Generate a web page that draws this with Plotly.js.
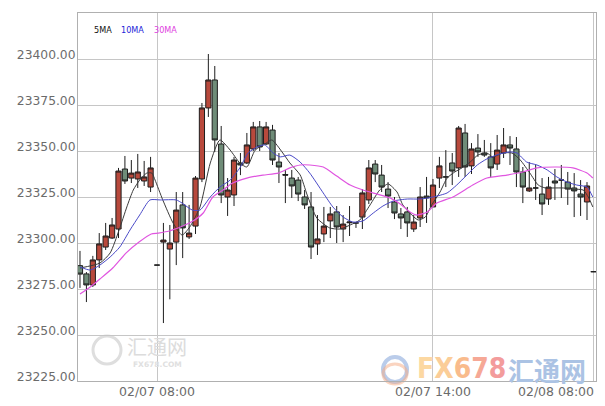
<!DOCTYPE html>
<html><head><meta charset="utf-8">
<script src="https://cdn.plot.ly/plotly-3.0.1.min.js"></script>
<style>html,body{margin:0;padding:0;background:#fff}#chart{width:605px;height:406px}</style>
</head><body><div id="chart"></div>
<script>
// ---- data ----
const openP = [23287.7,23283.2,23277.2,23290.8,23297.8,23302.7,23307.6,23340.2,23335.3,23334.8,
23333.7,23330.4,23288.0,23300.5,23296.7,23300.5,23320.7,23303.3,23309.2,23334.8,
23373.4,23388.6,23353.8,23325.0,23326.1,23343.5,23343.5,23351.1,23363.1,23353.8,
23361.4,23344.0,23337.2,23335.3,23334.2,23325.0,23319.6,23299.5,23304.9,23312.0,
23316.9,23307.6,23311.0,23310.9,23314.1,23323.4,23342.9,23336.9,23329.3,23322.3,
23315.8,23316.9,23307.6,23313.6,23325.5,23319.6,23335.3,23335.9,23343.5,23340.8,
23359.8,23341.9,23351.6,23348.9,23346.8,23342.9,23348.9,23353.3,23351.1,23338.6,
23328.3,23329.9,23326.6,23323.9,23333.7,23334.2,23333.1,23329.9,23326.6,23322.3,
23284.4];
const highP = [23295.7,23284.2,23293.0,23305.4,23310.9,23313.6,23340.8,23347.3,23345.1,23348.4,
23344.6,23346.8,23288.0,23310.9,23309.8,23327.7,23327.7,23320.7,23336.4,23376.1,
23402.7,23396.2,23363.6,23335.3,23346.8,23348.9,23359.8,23365.8,23366.3,23365.8,
23364.2,23348.9,23339.7,23339.7,23335.9,23328.8,23327.7,23315.2,23319.6,23319.6,
23320.1,23315.2,23320.1,23311.4,23329.3,23345.1,23345.1,23342.4,23333.1,23325.0,
23319.0,23319.6,23315.2,23330.4,23335.9,23334.8,23346.8,23350.5,23348.9,23363.6,
23364.7,23354.3,23359.2,23356.0,23354.3,23358.7,23362.5,23358.1,23357.6,23341.3,
23344.0,23342.4,23335.3,23335.9,23340.2,23342.4,23338.6,23338.0,23334.2,23333.1,
23284.4];
const lowP = [23275.6,23267.9,23276.1,23286.4,23296.2,23302.2,23302.7,23332.1,23332.6,23329.9,
23331.0,23327.7,23288.0,23256.5,23269.4,23288.0,23291.8,23302.2,23304.9,23333.1,
23368.5,23349.5,23321.7,23314.7,23320.1,23336.9,23342.9,23350.0,23350.0,23353.3,
23342.4,23332.6,23321.7,23324.5,23322.8,23318.5,23291.3,23293.5,23300.5,23302.7,
23300.0,23300.5,23303.8,23308.2,23307.6,23321.2,23333.1,23327.7,23319.0,23313.0,
23307.6,23303.3,23306.0,23308.7,23310.9,23319.6,23329.9,23330.4,23331.5,23335.9,
23335.9,23337.5,23346.8,23346.8,23335.9,23339.7,23346.2,23342.4,23330.4,23321.7,
23327.7,23323.4,23315.2,23320.7,23323.4,23324.5,23320.7,23314.1,23314.7,23312.5,
23284.4];
const closeP = [23283.1,23277.2,23290.8,23299.5,23303.8,23309.8,23339.1,23333.7,23338.0,23338.6,
23335.9,23340.8,23288.0,23301.6,23300.0,23317.9,23308.2,23305.4,23335.3,23373.4,
23388.6,23356.0,23326.1,23328.8,23345.1,23342.4,23353.3,23363.1,23352.2,23363.1,
23345.1,23341.3,23336.9,23331.0,23326.6,23320.7,23297.8,23302.2,23309.2,23315.8,
23308.7,23310.3,23311.4,23310.9,23327.2,23340.8,23337.5,23330.4,23325.5,23316.3,
23313.6,23310.9,23311.4,23325.0,23324.5,23331.5,23341.9,23335.9,23339.1,23362.5,
23341.3,23351.1,23349.5,23347.8,23340.8,23350.5,23353.3,23351.6,23338.6,23330.4,
23329.9,23329.9,23321.2,23330.4,23332.6,23334.2,23329.3,23328.3,23325.0,23331.0,
23284.4];

const ma5X = [0,3.1,4.7,6.1,7.3,8.3,9.3,10.4,11.2,11.7,12.9,14.5,15.9,17.1,18.7,20.3,21.8,23.4,24.9,26.0,27.3,28.8,29.9,31.6,32.7,34.3,35.4,36.9,38.9,40.5,42.1,43.6,45.2,46.7,48.0,49.4,50.3,51.7,52.7,53.8,54.8,56.1,57.2,58.4,59.5,60.8,62.0,63.4,64.3,65.9,67.3,68.6,70.1,71.4,72.5,73.7,75.3,76.8,78.4,79.2,79.9];
const ma5Y = [23286.4,23289.1,23294.6,23307.1,23319.6,23328.8,23334.2,23338.0,23338.0,23334.2,23323.4,23310.9,23304.3,23308.7,23319.6,23343.5,23356.0,23350.5,23343.5,23341.3,23350.5,23353.8,23356.0,23348.9,23343.5,23337.0,23326.1,23313.6,23308.2,23307.6,23309.8,23312.5,23320.7,23328.8,23332.1,23327.7,23320.7,23315.2,23312.5,23314.1,23320.7,23327.7,23335.3,23338.6,23340.8,23344.0,23347.8,23348.9,23346.8,23348.9,23348.9,23345.1,23338.0,23331.5,23329.9,23329.9,23329.9,23329.3,23328.8,23325.0,23319.6];

const ma10X = [0,1.6,3.1,4.7,6.2,7.8,9.3,10.9,12.5,15.0,15.9,17.5,18.7,20.3,21.8,23.4,24.9,26.2,27.6,28.8,30.1,31.2,32.7,34.3,35.8,37.9,39.4,41.0,42.5,44.1,45.7,47.2,48.8,51.0,53.0,55.0,57.2,58.7,60.3,61.9,63.4,65.4,67.0,68.1,69.6,71.2,72.8,74.3,75.9,77.4,79.0,79.9];
const ma10Y = [23287.0,23285.3,23288.0,23292.4,23297.8,23307.1,23315.2,23323.4,23323.4,23323.4,23321.7,23317.9,23317.9,23325.0,23330.4,23334.2,23340.8,23348.9,23352.2,23353.3,23348.9,23346.8,23347.8,23344.0,23338.0,23327.2,23319.6,23314.1,23311.4,23312.0,23316.3,23320.1,23322.8,23323.9,23323.9,23325.0,23327.2,23331.5,23337.0,23342.4,23345.7,23348.4,23349.5,23348.9,23344.0,23342.4,23339.7,23335.9,23333.1,23331.5,23330.4,23325.0];

const ma30X = [0,1.6,3.1,5.1,7.2,9.2,11.1,12.2,13.9,16.0,17.6,19.2,20.7,22.3,23.8,26.0,28.5,30.9,32.7,34.3,35.8,37.9,40.0,42.1,44.1,46.3,48.3,49.9,51.4,52.5,54.1,55.6,58.1,61.2,63.4,66.5,69.0,71.2,74.3,76.8,79.0,79.9];
const ma30Y = [23272.3,23276.1,23280.4,23286.4,23294.6,23300.5,23304.9,23305.4,23306.5,23309.2,23311.9,23316.3,23325.0,23328.8,23332.6,23335.3,23336.9,23338.0,23340.8,23342.4,23342.4,23341.3,23336.4,23331.5,23328.8,23326.6,23324.5,23321.2,23316.9,23315.2,23316.9,23321.7,23325.0,23331.5,23335.3,23336.9,23338.6,23340.8,23341.3,23340.8,23338.0,23335.3];

const yTickVals = [23225,23250,23275,23300,23325,23350,23375,23400];
const yTickText = ['23225.00','23250.00','23275.00','23300.00','23325.00','23350.00','23375.00','23400.00'];
const xTickVals = [12,55,80];
const xTickText = ['02/07 08:00','02/07 14:00','02/08 08:00'];
const legendNames = ['5MA','10MA','30MA'];

// ---- build ----
const slots = openP.map((_, i) => i);
const candle = {
  type: 'candlestick', x: slots, open: openP, high: highP, low: lowP, close: closeP,
  increasing: {line: {color: '#1e1e1e', width: 1}, fillcolor: '#b8493c'},
  decreasing: {line: {color: '#1e1e1e', width: 1}, fillcolor: '#6f8c78'},
  whiskerwidth: 0, hoverinfo: 'skip'
};
const maColors = ['#3a3a3a', '#4a4ac8', '#e055e0'];
const ma = [[ma5X, ma5Y], [ma10X, ma10Y], [ma30X, ma30Y]].map((d, k) => ({
  type: 'scatter', mode: 'lines', x: d[0], y: d[1], name: legendNames[k],
  line: {color: maColors[k], width: k === 2 ? 1.2 : 1, shape: 'spline', smoothing: 0.6},
  hoverinfo: 'skip'
}));

const annotations = [];
const legendX = [92, 119, 152];
const legendCol = ['#111111', '#2525d8', '#e040e0'];
legendNames.forEach((t, k) => annotations.push({
  text: t, xref: 'paper', yref: 'paper', x: (legendX[k] - 78) / 518, y: 1 - (29.5 - 13) / 368,
  xanchor: 'left', yanchor: 'middle', showarrow: false,
  font: {family: 'DejaVu Sans Condensed, DejaVu Sans', size: 9, color: legendCol[k]}
}));
// watermarks (drawn before the tick labels so the labels sit on top)
annotations.push({text: '汇通网', xref: 'paper', yref: 'paper', x: (157 - 78) / 518, y: 1 - (346 - 13) / 368,
  xanchor: 'center', yanchor: 'middle', showarrow: false, borderpad: 0,
  font: {family: 'Noto Sans CJK SC', size: 20, color: '#dcdcdc'}});
annotations.push({text: '<b>FX678.COM</b>', xref: 'paper', yref: 'paper', x: (157 - 78) / 518, y: 1 - (364 - 13) / 368,
  xanchor: 'center', yanchor: 'middle', showarrow: false, borderpad: 0,
  font: {family: 'DejaVu Sans', size: 7.5, color: '#e0e0e0'}});
annotations.push({text: '<b><span style="color:#fcd8a2">F</span><span style="color:#fbcd98">X</span><span style="color:#f9bb8c">6</span><span style="color:#f6a896">7</span><span style="color:#f39c9c">8</span></b>',
  xref: 'paper', yref: 'paper', x: (461 - 78) / 518, y: 1 - (368 - 13) / 368,
  xanchor: 'center', yanchor: 'middle', showarrow: false,
  font: {family: 'DejaVu Sans Condensed, DejaVu Sans', size: 28, color: '#f9bb8c'}});
annotations.push({text: '<b>汇通网</b>', xref: 'paper', yref: 'paper', x: (547 - 78) / 518, y: 1 - (369 - 13) / 368,
  xanchor: 'center', yanchor: 'middle', showarrow: false,
  font: {family: 'Noto Sans CJK SC', size: 26, color: '#abc3e4'}});
xTickVals.forEach((v, k) => annotations.push({
  text: xTickText[k], xref: 'x', yref: 'paper', x: v, y: 0, yshift: -10,
  xanchor: k === xTickVals.length - 1 ? 'right' : 'center', xshift: k === xTickVals.length - 1 ? 3 : 0,
  yanchor: 'middle', showarrow: false,
  font: {family: 'DejaVu Sans', size: 12.5, color: '#6b6b6b'}
}));

const shapes = [
  {type: 'circle', xref: 'paper', yref: 'paper', layer: 'below',
   x0: (93 - 78) / 518, x1: (121 - 78) / 518, y0: 1 - (364 - 13) / 368, y1: 1 - (336 - 13) / 368,
   line: {color: '#dedede', width: 3}},
  {type: 'circle', xref: 'paper', yref: 'paper', layer: 'below',
   x0: (383 - 78) / 518, x1: (407 - 78) / 518, y0: 1 - (382 - 13) / 368, y1: 1 - (357 - 13) / 368,
   line: {color: 'rgba(140,170,220,0.6)', width: 4}},
  {type: 'circle', xref: 'paper', yref: 'paper', layer: 'below',
   x0: (383 - 78) / 518, x1: (407 - 78) / 518, y0: 1 - (384 - 13) / 368, y1: 1 - (364 - 13) / 368,
   line: {color: 'rgba(246,170,130,0.5)', width: 3}}
];

const layout = {
  width: 605, height: 406, margin: {l: 78, r: 9, t: 13, b: 25},
  paper_bgcolor: '#ffffff', plot_bgcolor: '#ffffff', showlegend: false,
  boxgap: 0.1, boxgroupgap: 0.1,
  xaxis: {range: [-0.31, 80.4], tickvals: xTickVals, showticklabels: false, ticks: '',
    showgrid: true, gridcolor: '#c6c6c6', gridwidth: 1, zeroline: false,
    showline: true, mirror: true, linecolor: '#b0b0b0', linewidth: 1,
    rangeslider: {visible: false}, fixedrange: true},
  yaxis: {range: [23225, 23425], tickvals: yTickVals, ticktext: yTickText, ticks: '',
    ticklabelposition: 'outside top', ticklabelshift: 4, ticklabelstandoff: -1,
    showgrid: true, gridcolor: '#c6c6c6', gridwidth: 1, zeroline: false,
    showline: true, mirror: true, linecolor: '#b0b0b0', linewidth: 1,
    tickfont: {family: 'DejaVu Sans', size: 12.3, color: '#6b6b6b'}, fixedrange: true},
  annotations: annotations, shapes: shapes
};
Plotly.newPlot('chart', [candle].concat(ma), layout, {displayModeBar: false, staticPlot: true});
</script></body></html>
